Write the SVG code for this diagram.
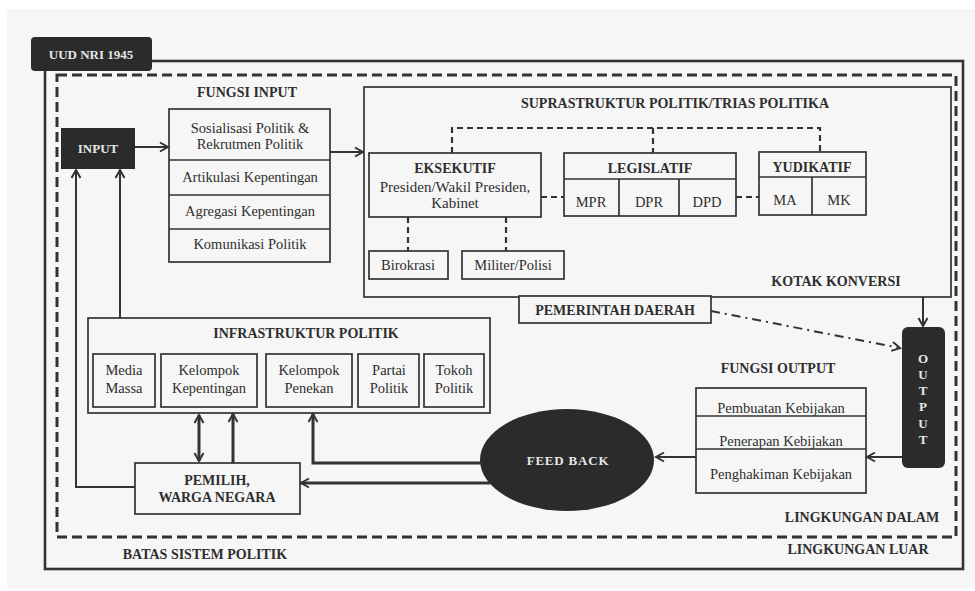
<svg xmlns="http://www.w3.org/2000/svg" width="975" height="591" viewBox="0 0 975 591" font-family="'Liberation Serif', 'Times New Roman', 'DejaVu Serif', serif">
<defs>
<style>
text{font-family:'Liberation Serif','Times New Roman','DejaVu Serif',serif;fill:#2e2e2e;}
.t{font-size:14px;font-weight:bold;text-anchor:middle;}
.r{font-size:14.5px;text-anchor:middle;}
.w{fill:#e6e6e6;font-weight:bold;text-anchor:middle;}
.box{fill:none;stroke:#333;stroke-width:1.7;}
.dark{fill:#2b2b2b;}
.dash{fill:none;stroke:#333;stroke-width:2.2;stroke-dasharray:6,4;}
.c{fill:none;stroke:#333;stroke-width:2;}
.ct{fill:none;stroke:#333;stroke-width:3;}
</style>
<marker id="arr" viewBox="0 0 12 12" refX="10" refY="6" markerWidth="12" markerHeight="12" markerUnits="userSpaceOnUse" orient="auto-start-reverse">
<path d="M2,1.5 L10,6 L2,10.5" fill="none" stroke="#333" stroke-width="2"/>
</marker>
</defs>
<rect x="0" y="0" width="975" height="591" fill="#ffffff"/>
<rect x="7" y="9" width="968" height="579" fill="#f6f6f6"/>

<g id="frames">
<rect x="45" y="61" width="918" height="508" fill="none" stroke="#333" stroke-width="2.6"/>
<rect x="57" y="75" width="899" height="462" fill="none" stroke="#333" stroke-width="3" stroke-dasharray="10,5"/>
<text class="t" x="205" y="559">BATAS SISTEM POLITIK</text>
<text class="t" x="862" y="522">LINGKUNGAN DALAM</text>
<text class="t" x="858" y="554">LINGKUNGAN LUAR</text>
</g>

<g id="uud">
<rect x="31" y="37" width="121" height="34" rx="4" class="dark"/>
<text class="w" x="91" y="59" style="font-size:13px">UUD NRI 1945</text>
</g>

<g id="input">
<rect x="61" y="128" width="74" height="41" class="dark"/>
<text class="w" x="98" y="153" style="font-size:13px">INPUT</text>
</g>

<g id="fungsi-input">
<text class="t" x="247" y="97">FUNGSI INPUT</text>
<rect x="169" y="109" width="161" height="153" class="box"/>
<line x1="169" y1="160" x2="330" y2="160" class="box"/>
<line x1="169" y1="195" x2="330" y2="195" class="box"/>
<line x1="169" y1="229" x2="330" y2="229" class="box"/>
<text class="r" x="250" y="133">Sosialisasi Politik &amp;</text>
<text class="r" x="250" y="149">Rekrutmen Politik</text>
<text class="r" x="250" y="182">Artikulasi Kepentingan</text>
<text class="r" x="250" y="216">Agregasi Kepentingan</text>
<text class="r" x="250" y="249">Komunikasi Politik</text>
</g>

<g id="suprastruktur">
<rect x="364" y="87" width="587" height="210" class="box"/>
<text class="t" x="675" y="108">SUPRASTRUKTUR POLITIK/TRIAS POLITIKA</text>
<text class="t" x="836" y="286">KOTAK KONVERSI</text>
</g>

<g id="eksekutif">
<rect x="369" y="153" width="172" height="64" class="box"/>
<text class="t" x="455" y="173">EKSEKUTIF</text>
<text class="r" x="455" y="192" style="font-size:15px">Presiden/Wakil Presiden,</text>
<text class="r" x="455" y="208" style="font-size:15px">Kabinet</text>
</g>

<g id="legislatif">
<rect x="564" y="153" width="172" height="63" class="box"/>
<line x1="564" y1="179" x2="736" y2="179" class="box"/>
<line x1="619" y1="179" x2="619" y2="216" class="box"/>
<line x1="679" y1="179" x2="679" y2="216" class="box"/>
<text class="t" x="650" y="173">LEGISLATIF</text>
<text class="r" x="591" y="207">MPR</text>
<text class="r" x="649" y="207">DPR</text>
<text class="r" x="707" y="207">DPD</text>
</g>

<g id="yudikatif">
<rect x="759" y="152" width="107" height="63" class="box"/>
<line x1="759" y1="177" x2="866" y2="177" class="box"/>
<line x1="812" y1="177" x2="812" y2="215" class="box"/>
<text class="t" x="812" y="172">YUDIKATIF</text>
<text class="r" x="785" y="205">MA</text>
<text class="r" x="839" y="205">MK</text>
</g>

<g id="birokrasi">
<rect x="369" y="251" width="79" height="28" class="box"/>
<text class="r" x="408" y="270">Birokrasi</text>
</g>

<g id="militer">
<rect x="462" y="251" width="102" height="28" class="box"/>
<text class="r" x="513" y="270">Militer/Polisi</text>
</g>

<g id="pemerintah-daerah">
<rect x="519" y="296" width="192" height="27" fill="#f6f6f6" stroke="#333" stroke-width="1.7"/>
<text class="t" x="615" y="315">PEMERINTAH DAERAH</text>
</g>

<g id="output">
<rect x="902" y="327" width="43" height="141" rx="6" class="dark"/>
<text class="w" style="font-size:13px" x="923" y="363">O</text>
<text class="w" style="font-size:13px" x="923" y="379">U</text>
<text class="w" style="font-size:13px" x="923" y="395">T</text>
<text class="w" style="font-size:13px" x="923" y="411">P</text>
<text class="w" style="font-size:13px" x="923" y="428">U</text>
<text class="w" style="font-size:13px" x="923" y="444">T</text>
</g>

<g id="fungsi-output">
<text class="t" x="778" y="373">FUNGSI OUTPUT</text>
<rect x="696" y="388" width="170" height="105" class="box"/>
<line x1="696" y1="416" x2="866" y2="416" class="box"/>
<line x1="696" y1="449" x2="866" y2="449" class="box"/>
<text class="r" x="781" y="413">Pembuatan Kebijakan</text>
<text class="r" x="781" y="446">Penerapan Kebijakan</text>
<text class="r" x="781" y="479">Penghakiman Kebijakan</text>
</g>

<g id="feedback">
<ellipse cx="567" cy="460" rx="87" ry="51" class="dark"/>
<text class="w" style="font-size:13px;letter-spacing:0.8px" x="568" y="465">FEED BACK</text>
</g>

<g id="infrastruktur">
<rect x="88" y="318" width="402" height="95" class="box"/>
<text class="t" x="306" y="338">INFRASTRUKTUR POLITIK</text>
<rect x="93" y="354" width="62" height="53" class="box"/>
<text class="r" x="124" y="375">Media</text>
<text class="r" x="124" y="393">Massa</text>
<rect x="161" y="354" width="96" height="53" class="box"/>
<text class="r" x="209" y="375">Kelompok</text>
<text class="r" x="209" y="393">Kepentingan</text>
<rect x="266" y="354" width="86" height="53" class="box"/>
<text class="r" x="309" y="375">Kelompok</text>
<text class="r" x="309" y="393">Penekan</text>
<rect x="358" y="354" width="61" height="53" class="box"/>
<text class="r" x="389" y="375">Partai</text>
<text class="r" x="389" y="393">Politik</text>
<rect x="424" y="354" width="60" height="53" class="box"/>
<text class="r" x="454" y="375">Tokoh</text>
<text class="r" x="454" y="393">Politik</text>
</g>

<g id="pemilih">
<rect x="135" y="463" width="165" height="51" class="box"/>
<text class="t" x="217" y="485">PEMILIH,</text>
<text class="t" x="217" y="502">WARGA NEGARA</text>
</g>

<g id="connectors">
<line x1="135" y1="147" x2="168" y2="147" class="c" marker-end="url(#arr)"/>
<line x1="330" y1="152" x2="363" y2="152" class="c" marker-end="url(#arr)"/>
<line x1="923" y1="297" x2="923" y2="326" class="c" marker-end="url(#arr)"/>
<line x1="711" y1="311" x2="900" y2="348" fill="none" stroke="#333" stroke-width="2" stroke-dasharray="9,5,2,5" marker-end="url(#arr)"/>
<line x1="902" y1="457" x2="867" y2="457" class="c" marker-end="url(#arr)"/>
<line x1="696" y1="457" x2="656" y2="457" class="c" marker-end="url(#arr)"/>
<path d="M483,463 H313 V414" class="ct" marker-end="url(#arr)"/>
<line x1="490" y1="483" x2="301" y2="483" class="ct" marker-end="url(#arr)"/>
<line x1="199" y1="415" x2="199" y2="461" class="ct" marker-start="url(#arr)" marker-end="url(#arr)"/>
<line x1="233" y1="463" x2="233" y2="414" class="ct" marker-end="url(#arr)"/>
<path d="M135,487 H76 V170" class="c" stroke-width="2.4" marker-end="url(#arr)"/>
<line x1="120" y1="318" x2="120" y2="170" class="c" stroke-width="2.4" marker-end="url(#arr)"/>
<path d="M452,153 V128 H820 V152" class="dash"/>
<line x1="653" y1="128" x2="653" y2="153" class="dash"/>
<line x1="541" y1="197" x2="564" y2="197" class="dash"/>
<line x1="736" y1="197" x2="759" y2="197" class="dash"/>
<line x1="408" y1="217" x2="408" y2="251" class="dash"/>
<line x1="506" y1="217" x2="506" y2="251" class="dash"/>
</g>
</svg>
